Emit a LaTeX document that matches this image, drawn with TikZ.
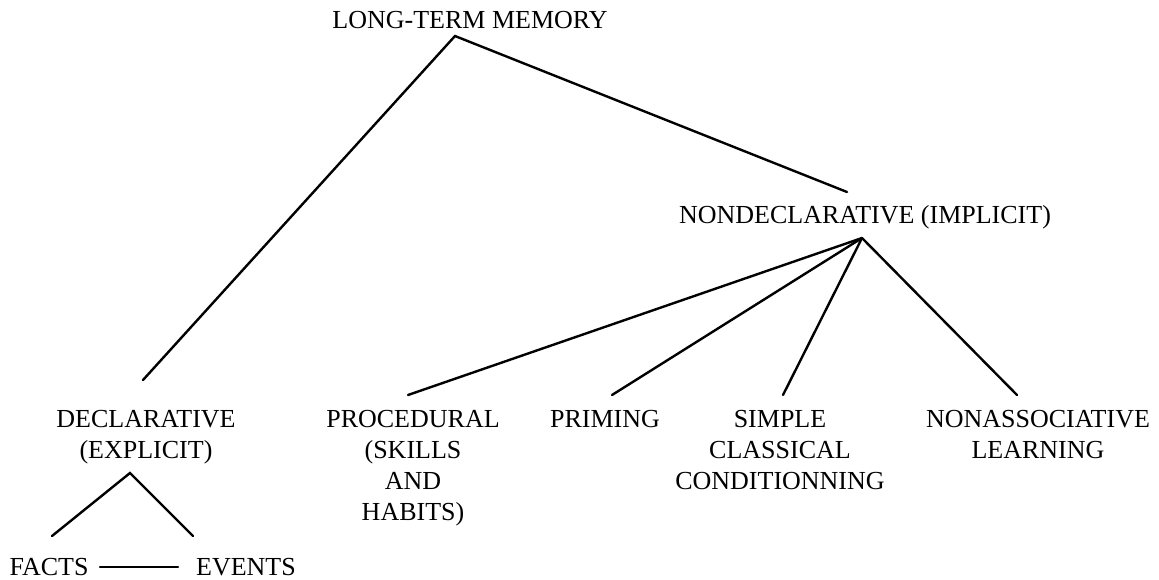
\documentclass[tikz,border=0pt]{standalone}
\usepackage{fontspec}
\setmainfont{Liberation Serif}
\newcommand{\mlines}[1]{\begin{tabular}[t]{@{}c@{}}#1\end{tabular}}
\begin{document}
\begin{tikzpicture}[x=1pt,y=-1pt,
  lbl/.style={inner sep=0pt, anchor=base, font=\fontsize{26}{31}\selectfont},
  conn/.style={line width=2.4pt, line cap=round}]
\useasboundingbox (0,0) rectangle (1159,579);
% text nodes
\node[lbl] (ltm) at (470,28) {LONG-TERM MEMORY};
\node[lbl] (nondecl) at (865,223) {NONDECLARATIVE (IMPLICIT)};
\node[lbl] (decl) at (146,427) {\mlines{DECLARATIVE\\(EXPLICIT)}};
\node[lbl] (proc) at (413,427) {\mlines{PROCEDURAL\\(SKILLS\\AND\\HABITS)}};
\node[lbl] (prim) at (605,427) {PRIMING};
\node[lbl] (simple) at (780,427) {\mlines{SIMPLE\\CLASSICAL\\CONDITIONNING}};
\node[lbl] (nonassoc) at (1038,427) {\mlines{NONASSOCIATIVE\\LEARNING}};
\node[lbl] (facts) at (49,575) {FACTS};
\node[lbl] (events) at (246,575) {EVENTS};
% connector end points
\coordinate (ltmA) at (455,36);
\coordinate (declT) at (143,380);
\coordinate (nondeclT) at (847,192);
\coordinate (nondeclB) at (862,238);
\coordinate (procT) at (408,395);
\coordinate (primT) at (612,395);
\coordinate (simpleT) at (783,395);
\coordinate (nonassocT) at (1017,395);
\coordinate (declB) at (130,473);
\coordinate (factsT) at (52,536);
\coordinate (eventsT) at (193,536);
\coordinate (factsE) at (100,567);
\coordinate (eventsW) at (178,567);
% connectors
\draw[conn] (declT) -- (ltmA) -- (nondeclT);
\draw[conn] (nondeclB) -- (procT);
\draw[conn] (nondeclB) -- (primT);
\draw[conn] (nondeclB) -- (simpleT);
\draw[conn] (nondeclB) -- (nonassocT);
\draw[conn] (factsT) -- (declB) -- (eventsT);
\draw[conn] (factsE) -- (eventsW);
\end{tikzpicture}
\end{document}
